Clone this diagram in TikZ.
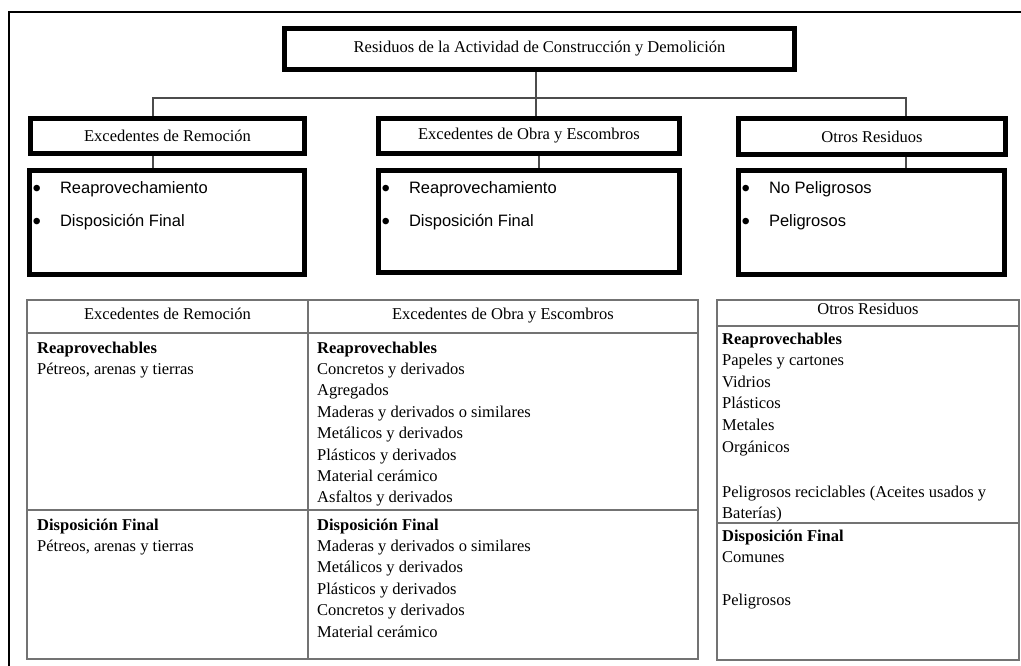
\documentclass[tikz,border=0pt]{standalone}
\usepackage{fontspec}
\setmainfont{Liberation Serif}
\newfontfamily\arialf{Liberation Sans}
\usetikzlibrary{calc}
\begin{document}
\begin{tikzpicture}[x=1pt,y=-1pt,
 box/.style={draw=black,line width=4.8pt,inner sep=0pt,font=\fontsize{16.5}{19}\selectfont},
 conn/.style={draw=black!70,line width=1.3pt},
 tline/.style={draw=black!55,line width=1.5pt},
 tx/.style={anchor=base west,inner sep=0pt,font=\fontsize{16.5}{19}\selectfont},
 th/.style={anchor=base,inner sep=0pt,font=\fontsize{16.5}{19}\selectfont},
 bul/.style={anchor=base west,inner sep=0pt,font=\arialf\fontsize{16.5}{19}\selectfont},
 dot/.style={anchor=base,inner sep=0pt,font=\arialf\fontsize{24}{19}\selectfont}]
\useasboundingbox (0,0) rectangle (1021,666);
\fill[white] (0,0) rectangle (1021,666);
% outer frame
\draw[line width=2.5pt] (1021,12) -- (9,12) -- (9,666);

% top box
\node[box,minimum width=510.5pt,minimum height=41.5pt] (top) at (539.5,49) {Residuos de la Actividad de Construcción y Demolición};
% second row
\node[box,minimum width=274.5pt,minimum height=35.5pt] (A) at (167.5,136) {Excedentes de Remoción};
\node[box,minimum width=301.5pt,minimum height=35.5pt] (B) at (529,136) {Excedentes de Obra y Escombros};
\node[box,minimum width=267.5pt,minimum height=35.5pt] (C) at (872,136.5) {Otros Residuos};
% bullet boxes
\node[box,minimum width=275.5pt,minimum height=104.5pt] (A2) at (167,222.5) {};
\node[box,minimum width=301.5pt,minimum height=102.5pt] (B2) at (529,221.5) {};
\node[box,minimum width=266.5pt,minimum height=104.5pt] (C2) at (871.5,222.5) {};

% connectors
\coordinate (jA) at (153,98);
\coordinate (jB) at (536,98);
\coordinate (jC) at (906,98);
\coordinate (jB2) at (539,160);
\draw[conn] (top.south -| jB) -- (B.north -| jB);
\draw[conn] (A.north -| jA) -- (jA) -- (jC) -- (C.north -| jC);
\draw[conn] (A.south -| jA) -- (A2.north -| jA);
\draw[conn] (B.south -| jB2) -- (B2.north -| jB2);
\draw[conn] (C.south -| jC) -- (C2.north -| jC);

% bullets
\foreach \bx/\ta/\tb in {A2/Reaprovechamiento/Disposición Final, B2/Reaprovechamiento/Disposición Final, C2/No Peligrosos/Peligrosos}{
  \node[dot] (\bx b1) at ($(\bx.north west)+(10,28.5)$) {•};
  \node[bul] (\bx t1) at ($(\bx.north west)+(33,26)$) {\ta};
  \node[dot] (\bx b2) at ($(\bx.north west)+(10,61.5)$) {•};
  \node[bul] (\bx t2) at ($(\bx.north west)+(33,59)$) {\tb};
}

% table 1
\draw[tline] (27,300) rectangle (698,659);
\draw[tline] (27,333) -- (698,333);
\draw[tline] (308,300) -- (308,659);
\draw[tline] (27,510) -- (698,510);
\node[th] (h1) at (167.5,319) {Excedentes de Remoción};
\node[th] (h2) at (503,319) {Excedentes de Obra y Escombros};
\node[tx,font=\fontsize{16.5}{19}\selectfont\bfseries] (r1) at (37,353) {Reaprovechables};
\node[tx] (r1a) at (37,374.4) {Pétreos, arenas y tierras};
\node[tx,font=\fontsize{16.5}{19}\selectfont\bfseries] (d1) at (37,530) {Disposición Final};
\node[tx] (d1a) at (37,551.4) {Pétreos, arenas y tierras};
\node[tx,font=\fontsize{16.5}{19}\selectfont\bfseries] (r2) at (317,353) {Reaprovechables};
\foreach \t [count=\i] in {Concretos y derivados, Agregados, Maderas y derivados o similares, Metálicos y derivados, Plásticos y derivados, Material cerámico, Asfaltos y derivados}
  \node[tx] (r2\i) at (317,353+\i*21.4) {\t};
\node[tx,font=\fontsize{16.5}{19}\selectfont\bfseries] (d2) at (317,530) {Disposición Final};
\foreach \t [count=\i] in {Maderas y derivados o similares, Metálicos y derivados, Plásticos y derivados, Concretos y derivados, Material cerámico}
  \node[tx] (d2\i) at (317,530+\i*21.4) {\t};

% table 2
\draw[tline] (717,300) rectangle (1019,660);
\draw[tline] (717,326) -- (1019,326);
\draw[tline] (717,523) -- (1019,523);
\node[th] (h3) at (868,314) {Otros Residuos};
\node[tx,font=\fontsize{16.5}{19}\selectfont\bfseries] (r3) at (722,344) {Reaprovechables};
\foreach \t [count=\i] in {Papeles y cartones, Vidrios, Plásticos, Metales, Orgánicos}
  \node[tx] (r3\i) at (722,344+\i*21.6) {\t};
\node[tx] (r3p) at (722,497) {Peligrosos reciclables (Aceites usados y};
\node[tx] (r3q) at (722,518) {Baterías)};
\node[tx,font=\fontsize{16.5}{19}\selectfont\bfseries] (d3) at (722,541) {Disposición Final};
\node[tx] (d31) at (722,562.5) {Comunes};
\node[tx] (d32) at (722,605.5) {Peligrosos};
\end{tikzpicture}
\end{document}
